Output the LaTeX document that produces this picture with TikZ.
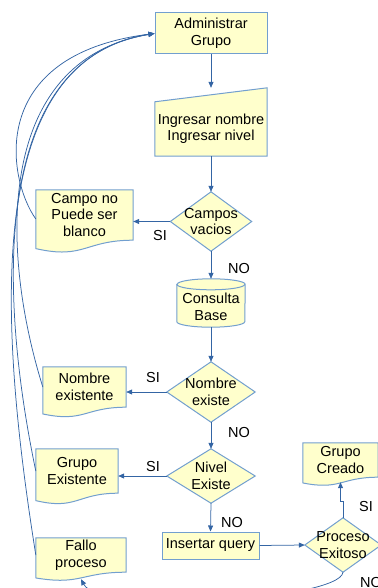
\documentclass[tikz,border=0pt]{standalone}
\usepackage{fontspec}
\setmainfont{Liberation Sans}
\usetikzlibrary{arrows.meta,calc}
\definecolor{shapefill}{HTML}{FFFFCC}
\definecolor{shapeborder}{HTML}{729FCF}
\definecolor{linkcol}{HTML}{3465A4}
\pgfdeclarelayer{bg}
\pgfsetlayers{bg,main}

% outlines drawn behind the (unfilled) text nodes
\newcommand\docshape[1]{%
  \path[shapeline] let \p1=(#1.north west), \p2=(#1.south east), \n1={\y1-\y2} in
    (\p1) -- (\x2,\y1) -- (\p2)
    .. controls ({(\x1+\x2)/2},\y2) and ({(\x1+\x2)/2},{\y2-0.386*\n1}) ..
    (\x1,{\y2-0.167*\n1}) -- cycle;}
\newcommand\decisionshape[1]{%
  \path[shapeline] (#1.north) -- (#1.east) -- (#1.south) -- (#1.west) -- cycle;}
\newcommand\inputshape[1]{%
  \path[shapeline] (#1.south west) -- (#1.north west) -- ([yshift=14pt]#1.north east)
    -- (#1.south east) -- cycle;}
\newcommand\dbshape[1]{%
  \path[shapeline] ([yshift=2.5pt]#1.north west) -- ([yshift=5.5pt]#1.south west)
    arc[start angle=180,end angle=360,x radius=34pt,y radius=5.5pt]
    -- ([yshift=2.5pt]#1.north east)
    arc[start angle=0,end angle=180,x radius=34pt,y radius=5.5pt] -- cycle;
  \draw[shapeborder,line width=1pt] ([yshift=2.5pt]#1.north west)
    arc[start angle=180,end angle=360,x radius=34pt,y radius=5.5pt];}

\begin{document}
\begin{tikzpicture}[x=1pt,y=-1pt,
  txt/.style={font=\fontsize{14.5}{16.5}\selectfont,align=center,inner sep=0pt},
  blk/.style={txt,rectangle,minimum width=#1},
  rectbox/.style={draw=shapeborder,fill=shapefill,line width=1pt},
  shapeline/.style={draw=shapeborder,fill=shapefill,line width=1pt},
  arr/.style={draw=linkcol,line width=0.75pt,-{Triangle[length=6pt,width=5pt]}},
  lbl/.style={txt}]
\useasboundingbox (0,0) rectangle (377,588);

% main column
\node[blk=112,minimum height=41,rectbox] (adm) at (211,33.5) {Administrar\\Grupo};
\node[blk=112,minimum height=54] (ing) at (211,129) {Ingresar nombre\\Ingresar nivel};
\node[blk=81,minimum height=59] (cv) at (211,221.5) {Campos\\vacios};
\node[blk=68,minimum height=40] (cb) at (211,307) {Consulta\\Base};
\node[blk=88,minimum height=60] (ne) at (211,392) {Nombre\\existe};
\node[blk=88,minimum height=54] (niv) at (211,476) {Nivel\\Existe};
\node[blk=97,minimum height=27,rectbox] (iq) at (210.5,545.5) {Insertar query};
\node[blk=76,minimum height=54] (pe) at (343,545) {Proceso\\Exitoso};

% message boxes
\node[blk=97,minimum height=50] (campo) at (84.5,215) {Campo no\\Puede ser\\blanco};
\node[blk=83,minimum height=40] (nex) at (84.5,387) {Nombre\\existente};
\node[blk=82,minimum height=44] (gex) at (77,471) {Grupo\\Existente};
\node[blk=90,minimum height=34] (fallo) at (81,555) {Fallo\\proceso};
\node[blk=75,minimum height=34] (gc) at (340.5,460) {Grupo\\Creado};

\begin{pgfonlayer}{bg}
  \inputshape{ing}
  \decisionshape{cv}
  \dbshape{cb}
  \decisionshape{ne}
  \decisionshape{niv}
  \decisionshape{pe}
  \docshape{campo}
  \docshape{nex}
  \docshape{gex}
  \docshape{fallo}
  \docshape{gc}
\end{pgfonlayer}

% flow
\draw[arr] (adm.south) -- ([yshift=14pt]ing.north);
\draw[arr] (ing.south) -- (cv.north);
\draw[arr] (cv.west) -- (cv.west -| campo.east);
\draw[arr] (cv.south) -- ([yshift=8pt]cb.north);
\draw[arr] (cb.south) -- (ne.north);
\draw[arr] (ne.west) -- (ne.west -| nex.east);
\draw[arr] (ne.south) -- (niv.north);
\draw[arr] (niv.west) -- (niv.west -| gex.east);
\draw[arr] (niv.south) -- (iq.north);
\draw[arr] (iq.east) -- (pe.west);
\draw[arr] (pe.north) -- ++(0,-16) -| ([yshift=-5pt]gc.south);
\draw[arr] (pe.south) .. controls (340,600) and (100,615) .. ([yshift=-7pt]fallo.south);

% returns to the start
\draw[arr] ([yshift=-4pt]campo.west) .. controls (8,180) and (-15,55) .. (adm.west);
\draw[arr] (nex.west) .. controls (0,250) and (-5,60) .. (adm.west);
\draw[arr] (gex.west) .. controls (0,300) and (-12,60) .. (adm.west);
\draw[arr] (fallo.west) .. controls (0,330) and (-20,60) .. (adm.west);

% branch labels
\node[lbl] (si1) at (160,236) {SI};
\node[lbl] (no1) at (239,269) {NO};
\node[lbl] (si2) at (153,378) {SI};
\node[lbl] (no2) at (239,433) {NO};
\node[lbl] (si3) at (153,467) {SI};
\node[lbl] (no3) at (232,523) {NO};
\node[lbl] (si4) at (366,507) {SI};
\node[lbl] (no4) at (371,583) {NO};
\end{tikzpicture}
\end{document}
